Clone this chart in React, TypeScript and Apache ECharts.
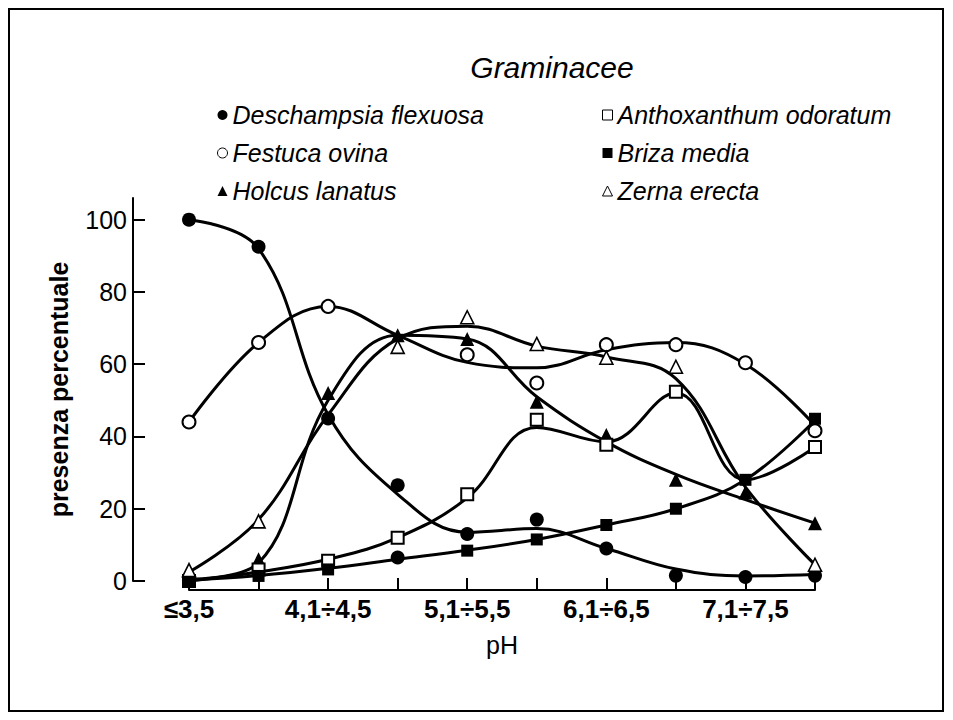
import React, { useEffect, useRef } from "react";
import * as echarts from "echarts";

// pH classes (x axis)
const categories = ["≤3,5", "3,6÷4,0", "4,1÷4,5", "4,6÷5,0", "5,1÷5,5", "5,6÷6,0", "6,1÷6,5", "6,6÷7,0", "7,1÷7,5", ">7,5"];
const yTicks = [0, 20, 40, 60, 80, 100];

const titleText = "Graminacee";
const xName = "pH";
const yName = "presenza percentuale";

const seriesNames = [
  "Deschampsia flexuosa",
  "Festuca ovina",
  "Holcus lanatus",
  "Anthoxanthum odoratum",
  "Briza media",
  "Zerna erecta",
];

// observed points (% presence)
const deschampsiaPts = [100, 92.5, 45, 26.5, 13, 17, 9, 1.5, 1.1, 1.5];
const deschampsiaPts2 = [null, null, null, 6.5, null, null, null, null, null, null];
const festucaPts = [44, 66, 76, null, 62.6, 54.8, 65.4, 65.4, 60.4, 41.6];
const holcusPts = [1, 6, 52, 68, 67, 49.6, 40.4, 28, 24.5, 16];
const anthoxanthumPts = [0, 3.2, 5.6, 12, 24, 44.6, 37.7, 52.4, null, 37.1];
const brizaPts = [0.2, 1.4, 3.2, null, 8.4, 11.5, 15.5, 20, 28, 44.9];
const zernaPts = [3, 16.5, null, 64.8, 73, 65.6, 61.8, 59.3, null, 4.5];

// hand-drawn fitted curves
const deschampsiaCurve = [100, 92, 46, 24, 13.5, 14.5, 9, 3.3, 1.4, 1.8];
const festucaCurve = [44, 66, 76, 68, 60.5, 59, 64, 66, 60, 43];
const holcusCurve = [0.5, 5, 50, 68, 67, 51, 38.5, 29.5, 22.5, 16];
const anthoxanthumCurve = [0, 2.5, 6, 12, 23, 42.5, 38.5, 52, 28, 37];
const brizaCurve = [0.2, 1.5, 3.5, 6, 8.5, 11.5, 15.5, 20, 28, 44.5];
const zernaCurve = [2.5, 17, 46, 67, 70.5, 65, 62, 56, 26, 4.5];

const FONT = "'Liberation Sans', Arial, Helvetica, sans-serif";

export default function App() {
  const ref = useRef<HTMLDivElement>(null);

  useEffect(() => {
    document.body.style.margin = "0";
    const chart = echarts.init(ref.current!, null, { renderer: "svg" });
    const black = "#000";
    const white = "#fff";

    const specs = [
      { name: seriesNames[0], pts: deschampsiaPts, curve: deschampsiaCurve, symbol: "circle", size: 14, fill: black, bw: 0, icon: "circle", ibw: 0 },
      { name: seriesNames[1], pts: festucaPts, curve: festucaCurve, symbol: "circle", size: 13, fill: white, bw: 2, icon: "circle", ibw: 1 },
      { name: seriesNames[2], pts: holcusPts, curve: holcusCurve, symbol: "triangle", size: 14, fill: black, bw: 0, icon: "triangle", ibw: 0 },
      { name: seriesNames[3], pts: anthoxanthumPts, curve: anthoxanthumCurve, symbol: "rect", size: 12, fill: white, bw: 2, icon: "rect", ibw: 1 },
      { name: seriesNames[4], pts: brizaPts, curve: brizaCurve, symbol: "rect", size: 12, fill: black, bw: 0, icon: "rect", ibw: 0 },
      { name: seriesNames[5], pts: zernaPts, curve: zernaCurve, symbol: "triangle", size: 13, fill: white, bw: 1.6, icon: "triangle", ibw: 1 },
    ];

    const series: any[] = [];
    specs.forEach((s) => {
      series.push({
        type: "line",
        name: s.name + " (curva)",
        data: s.curve,
        smooth: 0.4,
        symbol: "none",
        showSymbol: false,
        lineStyle: { color: black, width: 3 },
        z: 2,
        silent: true,
      });
    });
    specs.forEach((s) => {
      series.push({
        type: "scatter",
        name: s.name,
        data: s.pts,
        symbol: s.symbol,
        symbolSize: s.size,
        itemStyle: { color: s.fill, borderColor: black, borderWidth: s.bw, opacity: 1 },
        z: 5,
        silent: true,
      });
    });
    series.push({
      type: "scatter",
      name: seriesNames[0] + " ",
      data: deschampsiaPts2,
      symbol: "circle",
      symbolSize: 14,
      itemStyle: { color: black, borderWidth: 0, opacity: 1 },
      z: 5,
      silent: true,
    });

    const legendText = {
      fontFamily: FONT,
      fontSize: 25,
      fontStyle: "italic" as const,
      color: black,
      lineHeight: 30,
    };
    const legendItem = (s: any) => ({
      name: s.name,
      icon: s.icon,
      itemStyle: { color: s.fill, borderColor: black, borderWidth: s.ibw, opacity: 1 },
    });

    chart.setOption({
      animation: false,
      backgroundColor: white,
      grid: { left: 189, right: 138, top: 198, bottom: 139, containLabel: false },
      graphic: [
        {
          type: "rect",
          shape: { x: 9, y: 9, width: 934, height: 702 },
          style: { fill: "none", stroke: black, lineWidth: 2 },
          silent: true,
        },
        {
          type: "text",
          x: 552,
          y: 67,
          style: {
            text: titleText,
            fontFamily: FONT,
            fontSize: 30,
            fontStyle: "italic",
            fill: black,
            textAlign: "center",
            textVerticalAlign: "middle",
          },
          silent: true,
        },
      ],
      legend: [
        {
          orient: "vertical",
          left: 217,
          top: 100,
          padding: 0,
          itemGap: 8,
          itemWidth: 10,
          itemHeight: 10,
          selectedMode: false,
          textStyle: legendText,
          data: [specs[0], specs[1], specs[2]].map(legendItem),
        },
        {
          orient: "vertical",
          left: 602,
          top: 100,
          padding: 0,
          itemGap: 8,
          itemWidth: 10,
          itemHeight: 10,
          selectedMode: false,
          textStyle: legendText,
          data: [specs[3], specs[4], specs[5]].map(legendItem),
        },
      ],
      xAxis: {
        type: "category",
        data: categories,
        boundaryGap: false,
        offset: 9,
        name: xName,
        nameLocation: "middle",
        nameGap: 42,
        nameTextStyle: { fontFamily: FONT, fontSize: 25, color: black },
        axisLine: { onZero: false, lineStyle: { color: black, width: 2 } },
        axisTick: { inside: true, length: 12, interval: 0, lineStyle: { color: black, width: 2 } },
        axisLabel: {
          interval: 1,
          margin: 6,
          fontFamily: FONT,
          fontSize: 26,
          fontWeight: "bold",
          color: black,
        },
        splitLine: { show: false },
      },
      yAxis: {
        type: "value",
        min: 0,
        max: 106,
        offset: 56,
        name: yName,
        nameLocation: "middle",
        nameRotate: 90,
        nameGap: 62,
        nameTextStyle: { fontFamily: FONT, fontSize: 25, fontWeight: "bold", color: black },
        axisLine: { show: true, lineStyle: { color: black, width: 2 } },
        axisTick: { show: true, inside: true, length: 12, customValues: yTicks, lineStyle: { color: black, width: 2 } },
        axisLabel: {
          customValues: yTicks,
          margin: 6,
          fontFamily: FONT,
          fontSize: 25,
          color: black,
        },
        splitLine: { show: false },
      },
      series,
    });

    return () => chart.dispose();
  }, []);

  return (
    <div
      ref={ref}
      style={{ position: "fixed", left: 0, top: 0, width: 953, height: 720, background: "#fff" }}
    />
  );
}
